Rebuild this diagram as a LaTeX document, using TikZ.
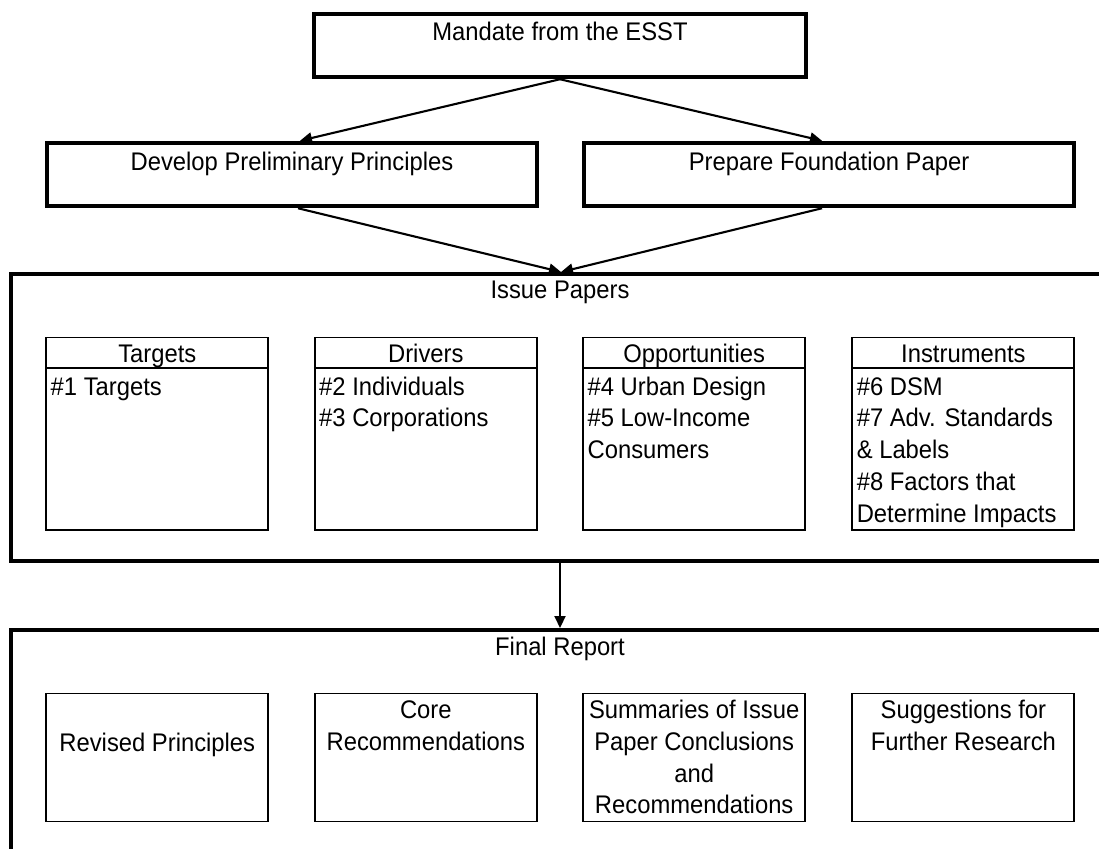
\documentclass[tikz,border=0pt]{standalone}
\usepackage{fontspec}
\setmainfont{Liberation Sans}
\usetikzlibrary{arrows.meta}
\newcommand{\vtx}[1]{\scalebox{1}[1.07]{#1}}
\tikzset{
  bigbox/.style={draw, line width=4.5pt, inner sep=0pt, minimum height=63pt},
  cell/.style={draw, line width=1.9pt, inner sep=0pt, minimum width=222pt},
  divline/.style={line width=1.9pt},
  lbl/.style={inner sep=0pt, font=\fontsize{23.8}{31.8}\selectfont},
  arr/.style={line width=2.1pt, -{Triangle[length=12pt,width=11pt]}},
}
\begin{document}
\begin{tikzpicture}[x=1pt,y=-1pt]
\useasboundingbox (0,0) rectangle (1099,848);
\clip (0,0) rectangle (1099,848);

% top boxes
\node[bigbox, minimum width=492pt] (mandate) at (560,45.5) {};
\node[lbl, anchor=base] (mandatet) at (560,40.5) {\vtx{Mandate from the ESST}};
\node[bigbox, minimum width=490pt] (develop) at (292,174.5) {};
\node[lbl, anchor=base] (developt) at (292,170) {\vtx{Develop Preliminary Principles}};
\node[bigbox, minimum width=490pt] (prepare) at (829,174.5) {};
\node[lbl, anchor=base] (preparet) at (829,170) {\vtx{Prepare Foundation Paper}};

% issue papers frame
\node[bigbox, minimum width=1119pt, minimum height=287pt] (issue) at (570.4,417.5) {};
\node[lbl, anchor=base] (issuet) at (560,298) {\vtx{Issue Papers}};
\coordinate (issuein) at (561,272);
\coordinate (issueout) at (560,563);

% final report frame
\node[bigbox, minimum width=1119pt, minimum height=250pt] (final) at (570.4,755) {};
\node[lbl, anchor=base] (finalt) at (560,655) {\vtx{Final Report}};
\coordinate (finalin) at (560,628);

% arrows
\draw[arr] (mandate.south) -- ([xshift=8pt]develop.north);
\draw[arr] (mandate.south) -- ([xshift=-7pt]prepare.north);
\draw[arr] ([xshift=6pt]develop.south) -- (issuein);
\draw[arr] ([xshift=-7pt]prepare.south) -- (issuein);
\draw[arr] (issueout) -- (finalin);

% issue paper cells
\node[cell, minimum height=192.5pt] (targets) at (157.3,433.75) {};
\node[cell, minimum height=192.5pt] (drivers) at (425.8,433.75) {};
\node[cell, minimum height=192.5pt] (opport) at (694.2,433.75) {};
\node[cell, minimum height=192.5pt] (instr) at (963.4,433.75) {};
\foreach \c in {targets,drivers,opport,instr}{
  \draw[divline] ([yshift=-31.5pt]\c.north west) -- ([yshift=-31.5pt]\c.north east);
}
\node[lbl, anchor=base] (targetsh) at (157.3,362) {\vtx{Targets}};
\node[lbl, anchor=base] (driversh) at (425.8,362) {\vtx{Drivers}};
\node[lbl, anchor=base] (opporth) at (694.2,362) {\vtx{Opportunities}};
\node[lbl, anchor=base] (instrh) at (963.4,362) {\vtx{Instruments}};

\node[lbl, anchor=north west, align=left] (targetsb) at (50.5,372.7) {\strut\vtx{\#1 Targets}};
\node[lbl, anchor=north west, align=left] (driversb) at (319,372.7) {\strut\vtx{\#2 Individuals}\\\vtx{\#3 Corporations}};
\node[lbl, anchor=north west, align=left] (opportb) at (587.4,372.7) {\strut\vtx{\#4 Urban Design}\\\vtx{\#5 Low-Income}\\\vtx{Consumers}};
\node[lbl, anchor=north west, align=left] (instrb) at (856.6,372.7) {\strut\vtx{\#6 DSM}\\\vtx{\#7 Adv. Standards}\\\vtx{\& Labels}\\\vtx{\#8 Factors that}\\\vtx{Determine Impacts}};

% final report cells
\node[cell, minimum height=128pt] (revised) at (157.3,757.5) {};
\node[cell, minimum height=128pt] (core) at (425.8,757.5) {};
\node[cell, minimum height=128pt] (summ) at (694.2,757.5) {};
\node[cell, minimum height=128pt] (sugg) at (963.4,757.5) {};

\node[lbl, anchor=north, align=center] (revisedt) at (157.3,729.4) {\strut\vtx{Revised Principles}};
\node[lbl, anchor=north, align=center] (coret) at (425.8,696) {\strut\vtx{Core}\\\vtx{Recommendations}};
\node[lbl, anchor=north, align=center] (summt) at (694.2,696) {\strut\vtx{Summaries of Issue}\\\vtx{Paper Conclusions}\\\vtx{and}\\\vtx{Recommendations}};
\node[lbl, anchor=north, align=center] (suggt) at (963.4,696) {\strut\vtx{Suggestions for}\\\vtx{Further Research}};
\end{tikzpicture}
\end{document}
